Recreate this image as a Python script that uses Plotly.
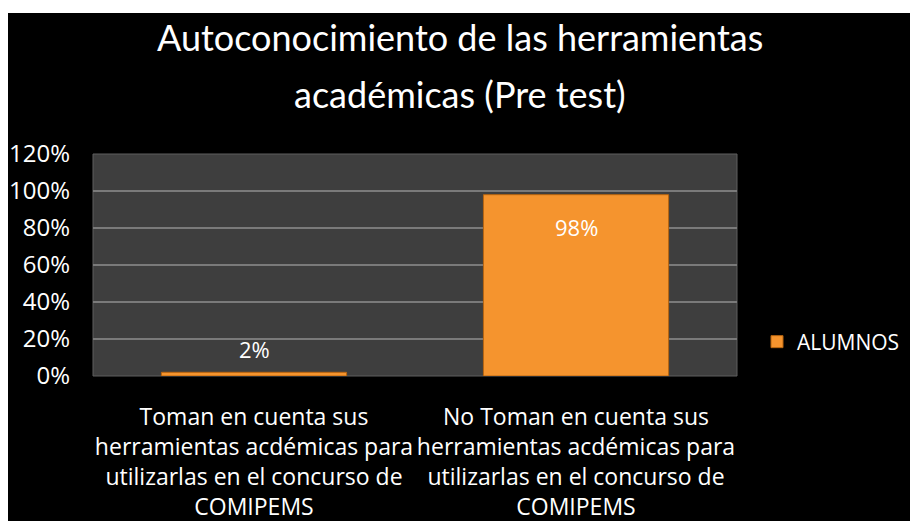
import plotly.graph_objects as go

categories = [
    "Toman en cuenta sus<br>herramientas acdémicas para<br>utilizarlas en el concurso de<br>COMIPEMS",
    "No Toman en cuenta sus<br>herramientas acdémicas para<br>utilizarlas en el concurso de<br>COMIPEMS",
]
cat_keys = ["c1", "c2"]
alumnos = [0.02, 0.98]
series_name = "ALUMNOS"
y_ticks = [0, 0.2, 0.4, 0.6, 0.8, 1.0, 1.2]
title_lines = ["Autoconocimiento de las herramientas", "académicas (Pre test)"]

OFF = 8  # default page body margin
W, H = 918 - OFF, 521 - OFF
ML, MR, MT, MB = 93 - OFF, 181, 154 - OFF, 145
PW, PH = W - ML - MR, H - MT - MB

def px_x(px):  # px in reference-page coordinates
    return (px - OFF - ML) / PW

def px_y(py):
    return (H - MB - (py - OFF)) / PH

fig = go.Figure()
fig.add_trace(go.Bar(
    x=cat_keys, y=alumnos, name=series_name,
    marker=dict(color="#F5942E", line=dict(color="#B8650F", width=1)),
    showlegend=True,
))

txt_font = dict(family="Open Sans, Noto Sans, sans-serif", size=23, color="white")
lbl_font = dict(family="Open Sans, Noto Sans, sans-serif", size=22, color="white")

# data labels
fig.add_annotation(x=cat_keys[0], y=alumnos[0], text=f"{alumnos[0]:.0%}", showarrow=False,
                   yanchor="bottom", yshift=6, font=lbl_font)
fig.add_annotation(x=cat_keys[1], y=alumnos[1], text=f"{alumnos[1]:.0%}", showarrow=False,
                   yanchor="top", yshift=-15, font=lbl_font)

# title lines
title_font = dict(family="Lato, Noto Sans, sans-serif", size=36, color="white")
fig.add_annotation(xref="paper", yref="paper", x=px_x(460), y=px_y(37), text=title_lines[0],
                   showarrow=False, xanchor="center", yanchor="middle", font=title_font)
fig.add_annotation(xref="paper", yref="paper", x=px_x(460), y=px_y(94), text=title_lines[1],
                   showarrow=False, xanchor="center", yanchor="middle", font=title_font)

# background: white border, black chart area, dark grey plot area
fig.add_shape(type="rect", xref="paper", yref="paper", layer="below",
              x0=px_x(7), x1=px_x(930), y0=px_y(530), y1=px_y(13),
              fillcolor="black", line=dict(width=0))
fig.add_shape(type="rect", xref="paper", yref="paper", layer="below",
              x0=0, x1=1, y0=0, y1=1,
              fillcolor="#3E3E3E", line=dict(color="#5E5E5E", width=1))

fig.update_layout(
    width=W, height=H,
    margin=dict(l=ML, r=MR, t=MT, b=MB, autoexpand=False),
    paper_bgcolor="white",
    plot_bgcolor="rgba(0,0,0,0)",
    bargap=0.425,
    showlegend=True,
    legend=dict(x=px_x(757), y=px_y(342), xanchor="left", yanchor="middle",
                itemwidth=30,
                font=dict(family="Open Sans, Noto Sans, sans-serif", size=21, color="white"),
                bgcolor="rgba(0,0,0,0)"),
)
fig.update_xaxes(
    tickmode="array", tickvals=cat_keys, ticktext=categories,
    tickfont=txt_font, showgrid=False, showline=False, ticks="",
    range=[-0.5, 1.5], ticklabelstandoff=25, tickangle=0,
)
fig.update_yaxes(
    range=[0, 1.2], tickvals=y_ticks, tickformat=".0%",
    tickfont=dict(family="Open Sans, Noto Sans, sans-serif", size=24, color="white"),
    showgrid=True, gridcolor="#7A7A7A", gridwidth=2,
    zeroline=False, showline=False, ticks="", ticklabelstandoff=22,
)

fig.write_html("out.html")
